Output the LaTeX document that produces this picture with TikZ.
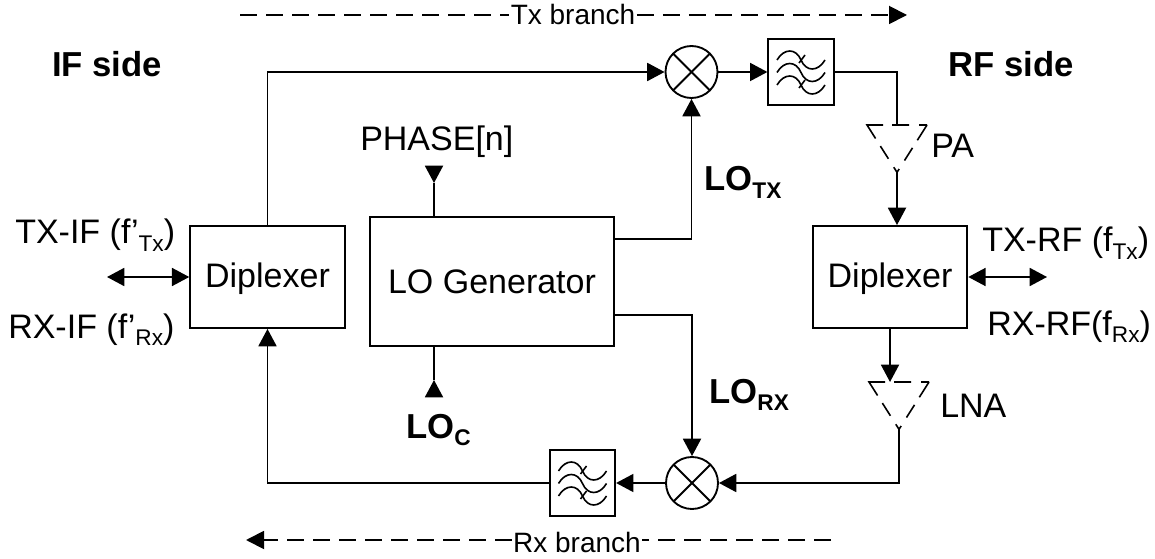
\documentclass[tikz,border=0pt]{standalone}
\usepackage{fontspec}
\setmainfont{Liberation Sans}
\usetikzlibrary{arrows.meta,shapes.geometric}
\newcommand{\lowtext}[1]{\raisebox{-0.22em}{\fontsize{17}{20}\selectfont #1}}

\begin{document}
\begin{tikzpicture}[
    x=0.75pt, y=-0.75pt,
    every node/.style={font=\fontsize{25.5}{30}\selectfont, inner sep=0pt},
    box/.style={rectangle, draw, line width=1.4pt, align=center},
    diplexer/.style={box, minimum width=116pt, minimum height=76.5pt, text depth=2pt},
    mixer/.style={circle, draw, line width=1.4pt, minimum size=39pt, path picture={
        \draw[line width=1.4pt] (path picture bounding box.north west) -- (path picture bounding box.south east);
        \draw[line width=1.4pt] (path picture bounding box.north east) -- (path picture bounding box.south west);}},
    filterbox/.style={box, minimum size=49pt, path picture={
        \begin{scope}[shift={(path picture bounding box.center)}, line width=1.2pt]
        \foreach \dy in {0,12.5,25} {
            \draw (-24,-12+\dy) .. controls (-17,-24+\dy) and (-5,-24+\dy) .. (0,-12+\dy)
                .. controls (5,0+\dy) and (17,0+\dy) .. (24,-12+\dy);
        }
        \draw (4,-17) -- (-2,-9);
        \draw (4,8) -- (-2,16);
        \end{scope}}},
    amp/.style={isosceles triangle, isosceles triangle stretches, shape border rotate=-90,
        minimum width=45pt, minimum height=35.5pt, outer sep=0pt},
    ampline/.style={line width=1.2pt, dash pattern=on 6pt off 7.5pt on 12.75pt off 6.75pt on 24pt off 6.75pt on 11.25pt off 7.5pt on 7.5pt off 7.5pt on 11.25pt off 6.75pt on 12pt off 0pt},
    label/.style={anchor=base west},
    boldlabel/.style={anchor=base west, font=\fontsize{26}{30}\selectfont\bfseries},
    arrow/.style={-{Triangle[length=13pt, width=13.5pt]}, line width=1.4pt},
    wire/.style={line width=1.4pt},
    branch/.style={line width=1.4pt, dash pattern=on 12.5pt off 7pt}
]
\useasboundingbox (0,0) rectangle (1155,559);

\node[diplexer] (dpxif) at (267.5,277) {Diplexer};
\node[diplexer] (dpxrf) at (890,277) {Diplexer};
\node[box, minimum width=183pt, minimum height=96.75pt] (logen) at (492,281.5) {LO Generator};

\node[mixer] (mixtx) at (691.5,72) {};
\node[mixer] (mixrx) at (692,483) {};
\node[filterbox] (filttx) at (801,72) {};
\node[filterbox] (filtrx) at (582.5,483) {};

\node[amp, anchor=lower side] (pa) at (897,125) {};
\node[amp, anchor=lower side] (lna) at (899,382) {};
\foreach \ampname in {pa,lna} {
    \draw[ampline] (\ampname.left corner) -- (\ampname.right corner) -- (\ampname.apex) -- cycle;
}

\node[boldlabel] (ifside) at (52,77) {IF side};
\node[boldlabel] (rfside) at (948,77) {RF side};
\node[label] (txif) at (15,244) {TX-IF (f’\lowtext{Tx})};
\node[label] (rxif) at (8,338) {RX-IF (f’\lowtext{Rx})};
\node[label] (txrf) at (982,252) {TX-RF (f\lowtext{Tx})};
\node[label] (rxrf) at (987,335) {RX-RF(f\lowtext{Rx})};
\node[label] (phase) at (360,151) {PHASE[n]};
\node[boldlabel] (loc) at (406,438) {LO\lowtext{C}};
\node[boldlabel] (lotx) at (704,191) {LO\lowtext{TX}};
\node[boldlabel] (lorx) at (709,403) {LO\lowtext{RX}};
\node[label] (palabel) at (931,158) {PA};
\node[label] (lnalabel) at (940,417) {LNA};

\node[font=\fontsize{21}{25}\selectfont, inner sep=1pt] (txbranch) at (573,14) {Tx branch};
\node[font=\fontsize{21}{25}\selectfont, inner sep=1pt] (rxbranch) at (577,542) {Rx branch};

\coordinate (txstart) at (240,15);
\coordinate (txend) at (907,15);
\coordinate (rxstart) at (831,540);
\coordinate (rxend) at (246,540);
\coordinate (ifout) at (107,277);
\coordinate (rfout) at (1047,277);
\coordinate (phasetip) at (434,183);
\coordinate (phasetop) at (434,167);
\coordinate (loctip) at (434,380);
\coordinate (locbase) at (434,396);

\draw[branch] (txstart) -- (txbranch.west |- txstart);
\draw[branch, -{Triangle[length=13.5pt, width=13.5pt]}] (txbranch.east |- txend) -- (txend);
\draw[branch] (rxstart) -- (rxbranch.east |- rxstart);
\draw[branch, -{Triangle[length=13.5pt, width=13.5pt]}] (rxbranch.west |- rxend) -- (rxend);

\draw[arrow] (dpxif.north) |- (mixtx.west);
\draw[arrow] (mixtx.east) -- (filttx.west);
\draw[wire] (filttx.east) -| (pa.lower side);
\draw[arrow] (pa.apex) -- (pa.apex |- dpxrf.north);
\draw[arrow] (dpxrf.south) -- (dpxrf.south |- lna.lower side);
\draw[arrow] (lna.apex) |- (mixrx.east);
\draw[arrow] (mixrx.west) -- (filtrx.east);
\draw[arrow] (filtrx.west) -| (dpxif.south);

\draw[arrow] (logen.east |- 0,239) -| (mixtx.south);
\draw[arrow] (logen.east |- 0,315) -| (mixrx.north);

\draw[arrow] (phasetop) -- (phasetip);
\draw[wire] (phasetip) -- (phasetip |- logen.north);
\draw[arrow] (locbase) -- (loctip);
\draw[wire] (loctip) -- (loctip |- logen.south);

\draw[{Triangle[length=13pt, width=13.5pt]}-{Triangle[length=13pt, width=13.5pt]}, line width=1.4pt] (ifout) -- (dpxif.west);
\draw[{Triangle[length=13pt, width=13.5pt]}-{Triangle[length=13pt, width=13.5pt]}, line width=1.4pt] (dpxrf.east) -- (rfout);
\end{tikzpicture}
\end{document}
